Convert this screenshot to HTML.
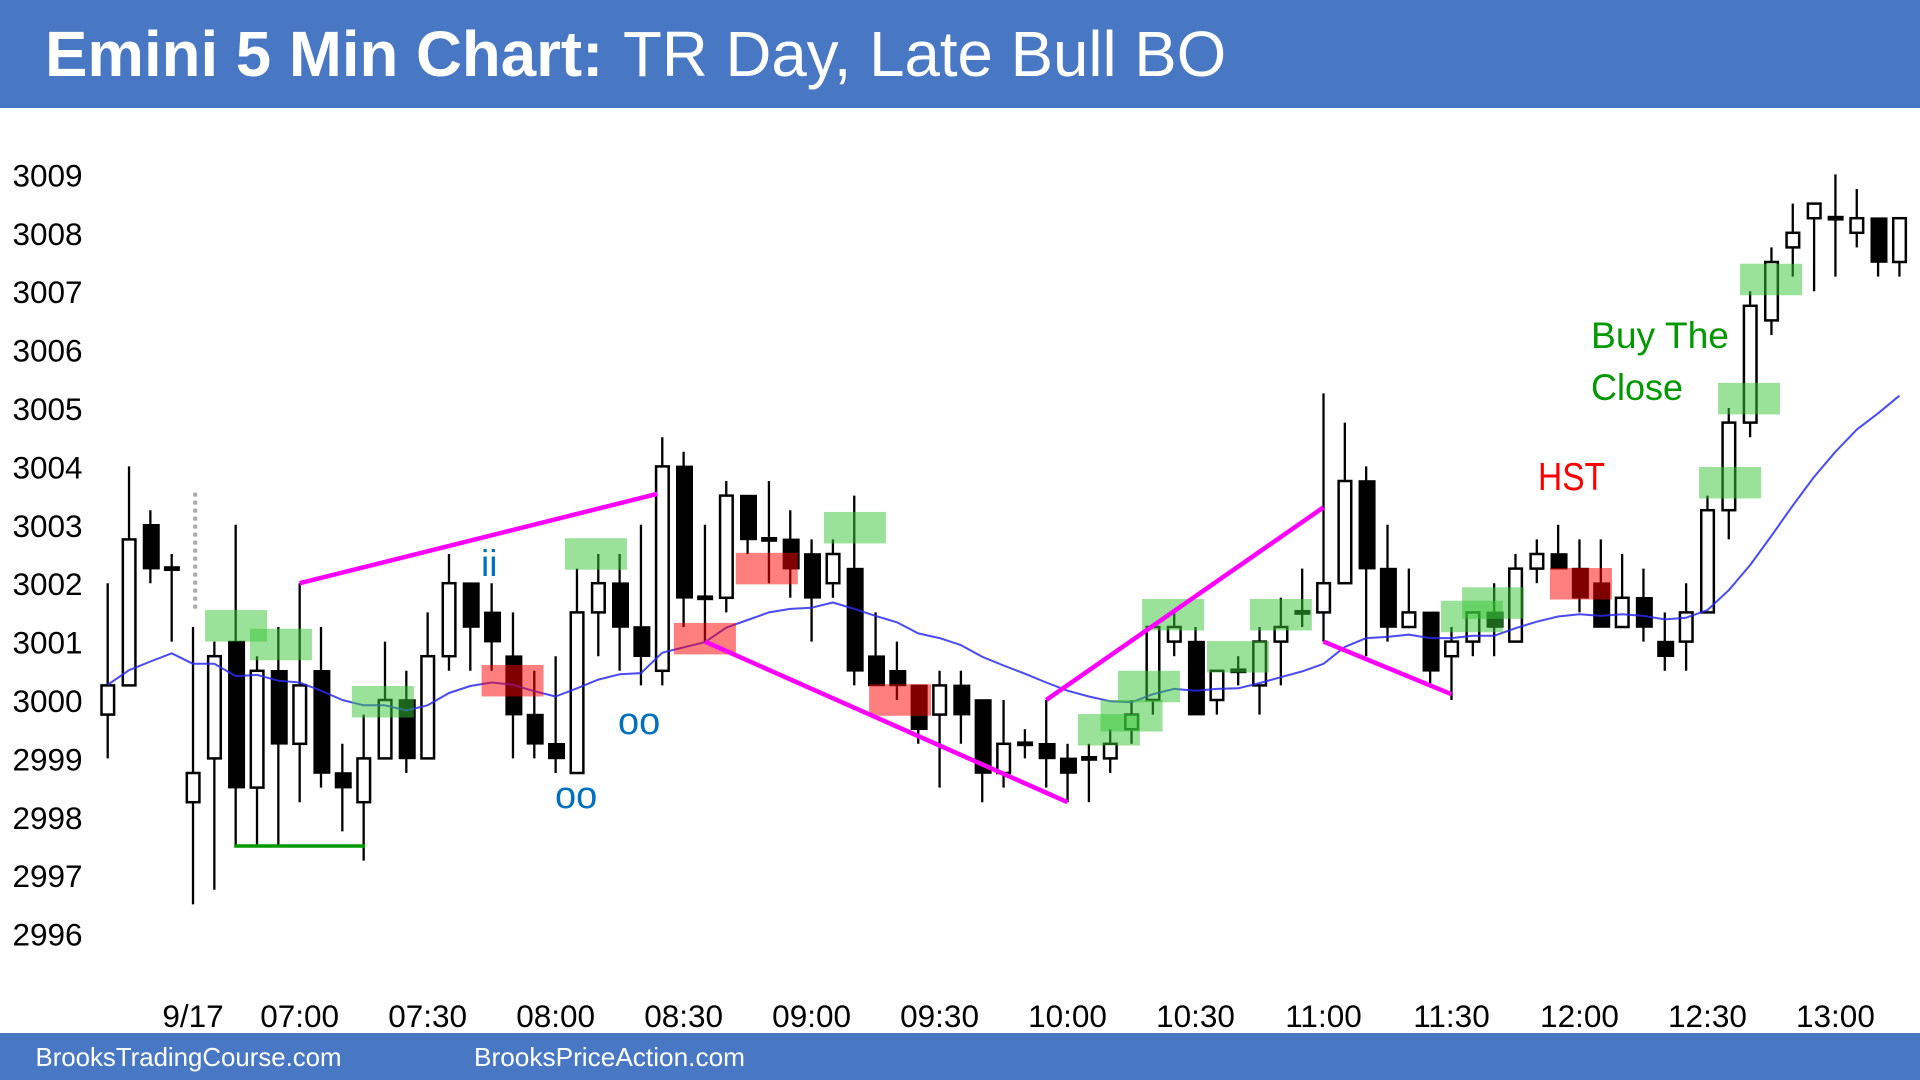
<!DOCTYPE html>
<html lang="en">
<head>
<meta charset="utf-8">
<title>Emini 5 Min Chart</title>
<style>
html,body{margin:0;padding:0;background:#fff;width:1920px;height:1080px;overflow:hidden}
svg{display:block;font-family:"Liberation Sans",Arial,sans-serif}
</style>
</head>
<body>
<svg id="chart" xmlns="http://www.w3.org/2000/svg" width="1920" height="1080" viewBox="0 0 1920 1080">
  <rect x="0" y="0" width="1920" height="1080" fill="#ffffff"/>
  <rect x="0" y="0" width="1920" height="108" fill="#4878c4"/>
  <text x="45" y="76" font-size="63.6" fill="#ffffff"><tspan font-weight="bold">Emini 5 Min Chart:</tspan><tspan x="623">TR Day, Late Bull BO</tspan></text>
  <rect x="0" y="1033" width="1920" height="47" fill="#4878c4"/>
  <text x="35.5" y="1066" font-size="25.6" fill="#ffffff" textLength="306" lengthAdjust="spacingAndGlyphs">BrooksTradingCourse.com</text>
  <text x="474" y="1066" font-size="25.6" fill="#ffffff" textLength="271" lengthAdjust="spacingAndGlyphs">BrooksPriceAction.com</text>
  <g id="y-axis"></g>
  <g id="x-axis"></g>
  <g id="session-marker"></g>
  <g id="candles"></g>
  <g id="ema"></g>
  <g id="zones"></g>
  <g id="lines"></g>
  <text x="481" y="576" font-size="37" fill="#0070c0">ii</text>
  <text x="555" y="808" font-size="38" fill="#0070c0">oo</text>
  <text x="618" y="734" font-size="38" fill="#0070c0">oo</text>
  <text x="1538" y="490" font-size="39" fill="#ff0000" textLength="67" lengthAdjust="spacingAndGlyphs">HST</text>
  <text x="1591" y="348" font-size="37" fill="#009900" textLength="138" lengthAdjust="spacingAndGlyphs">Buy The</text>
  <text x="1591" y="400" font-size="37" fill="#009900" textLength="92" lengthAdjust="spacingAndGlyphs">Close</text>
</svg>
<script>
const priceTicks = [3009,3008,3007,3006,3005,3004,3003,3002,3001,3000,2999,2998,2997,2996];
const timeLabels = ["9/17","07:00","07:30","08:00","08:30","09:00","09:30","10:00","10:30","11:00","11:30","12:00","12:30","13:00"];
const timeBars = [4,9,15,21,27,33,39,45,51,57,63,69,75,81];

const opens = [2999.75,3000.25,3003,3002.25,2998.25,2999,3001,2998.5,3000.5,2999.25,
3000.5,2998.75,2998.25,2999,3000,2999,3000.75,3002,3001.5,3000.75,
2999.75,2999.25,2998.75,3001.5,3002,3001.25,3000.5,3004,3001.75,3001.75,
3003.5,3002.75,3002.75,3002.5,3002,3002.25,3000.75,3000.5,3000.25,2999.75,
3000.25,3000,2998.75,2999.25,2999.25,2999,2999,2999,2999.5,3000,
3001,3001,3000,3000.5,3000.25,3001,3001.5,3001.5,3002,3003.75,
3002.25,3001.25,3001.5,3000.75,3001,3001.5,3001,3002.25,3002.5,3002.25,
3002,3001.25,3001.75,3001,3001,3001.5,3003.25,3004.75,3006.5,3007.75,
3008.25,3008.25,3008,3008.25,3007.5];
const highs = [3002,3004,3003.25,3002.5,3001.25,3001,3003,3000.75,3001.25,3002,
3001.25,2999.25,2999.75,3001,3000.5,3001.5,3002.5,3002,3002,3001.5,
3000.5,3000.75,3002.25,3002.5,3002.5,3003,3004.5,3004.25,3003,3003.75,
3003.5,3003.75,3003.25,3002.75,3002.75,3003.5,3001.5,3001,3000.25,3000.5,
3000.5,3000,3000,2999.5,3000,2999.25,2999.25,2999.5,3000,3001.25,
3001.5,3001.25,3000.5,3000.75,3001.25,3001.75,3002.25,3005.25,3004.75,3004,
3003,3002.25,3001.5,3001.25,3001.5,3002,3002.5,3002.75,3003,3002.75,
3002.75,3002.5,3002.25,3001.5,3002,3003.5,3005,3007,3007.75,3008.5,
3008.5,3009,3008.75,3008.25,3008.25];
const lows = [2999,3000.25,3002,3001,2996.5,2996.75,2997.5,2997.5,2997.5,2998.25,
2998.5,2997.75,2997.25,2999,2998.75,2999,3000.5,3000.5,3000.5,2999,
2999,2998.75,2998.75,3000.75,3000.5,3000.25,3000.25,3001.25,3001,3001.5,
3002.5,3002,3001.75,3001,3001.75,3000.25,3000.25,3000,2999.25,2998.5,
2999.25,2998.25,2998.5,2999,2998.5,2998.25,2998.25,2998.75,2999.25,2999.75,
3000.75,2999.75,2999.75,3000.25,2999.75,3000.25,3001.25,3001,3002,3000.75,
3001,3001.25,3000.25,3000,3000.75,3000.75,3001,3002,3002.25,3001.5,
3001.25,3001.25,3001,3000.5,3000.5,3001.5,3002.75,3004.5,3006.25,3007.25,
3007,3007.25,3007.75,3007.25,3007.25];
const closes = [3000.25,3002.75,3002.25,3002.25,2998.75,3000.75,2998.5,3000.5,2999.25,3000.25,
2998.75,2998.5,2999,3000,2999,3000.75,3002,3001.25,3001,2999.75,
2999.25,2999,3001.5,3002,3001.25,3000.75,3004,3001.75,3001.75,3003.5,
3002.75,3002.75,3002.25,3001.75,3002.5,3000.5,3000.25,3000.25,2999.5,3000.25,
2999.75,2998.75,2999.25,2999.25,2999,2998.75,2999,2999.25,2999.75,3001.25,
3001.25,2999.75,3000.5,3000.5,3001,3001.25,3001.5,3002,3003.75,3002.25,
3001.25,3001.5,3000.5,3001,3001.5,3001.25,3002.25,3002.5,3002.25,3001.75,
3001.25,3001.75,3001.25,3000.75,3001.5,3003.25,3004.75,3006.75,3007.5,3008,
3008.5,3008.25,3008.25,3007.5,3008.25];
const emaValues = [3000.26,3000.51,3000.66,3000.8,3000.62,3000.62,3000.41,3000.43,3000.33,3000.3,
3000.16,3000,2999.91,2999.91,2999.82,2999.91,3000.12,3000.24,3000.3,3000.26,
3000.15,3000.06,3000.2,3000.35,3000.44,3000.46,3000.81,3000.9,3000.99,3001.24,
3001.37,3001.5,3001.56,3001.58,3001.67,3001.56,3001.44,3001.33,3001.14,3001.06,
3000.94,3000.74,3000.59,3000.45,3000.3,3000.16,3000.06,2999.98,2999.96,3000.1,
3000.19,3000.16,3000.19,3000.2,3000.29,3000.39,3000.49,3000.62,3000.91,3001.06,
3001.08,3001.12,3001.06,3001.06,3001.1,3001.1,3001.23,3001.34,3001.43,3001.47,
3001.44,3001.47,3001.44,3001.38,3001.41,3001.54,3001.88,3002.31,3002.81,3003.33,
3003.82,3004.25,3004.63,3004.91,3005.21];

const buyZoneBars = [6.02,8.12,12.9,22.89,35.03,46.94,48,48.82,49.95,52.99,55,63.96,64.95,76.06,76.95,77.98];
const buyZoneTops = [3001.54,3001.22,3000.24,3002.77,3003.22,2999.76,3000,3000.5,3001.73,3001.01,3001.73,3001.7,3001.93,3003.99,3005.43,3007.47];
const sellZoneBars = [18.98,28,30.9,37.15,69.07];
const sellZoneTops = [3000.6,3001.32,3002.52,3000.27,3002.26];

const wedgeStartBars = [9,28,44,57];
const wedgeStartPrices = [3002,3001,3000,3001];
const wedgeEndBars = [25.77,45,57,63];
const wedgeEndPrices = [3003.53,2998.25,3003.3,3000.1];
const supportStartBar = 6;
const supportEndBar = 12;
const supportPrice = 2997.5;
const sessionMarkerBar = 4.1;
const sessionMarkerTop = 3003.55;
const sessionMarkerBottom = 3001.55;

const NS = "http://www.w3.org/2000/svg";
const xScale = function (i) { return 107.7 + 21.33 * i; };
const yScale = function (p) { return 700 - (p - 3000) * 58.4; };
function mk(parent, tag, attrs) {
  const el = document.createElementNS(NS, tag);
  for (const k in attrs) el.setAttribute(k, attrs[k]);
  parent.appendChild(el);
  return el;
}
const yAxis = document.getElementById("y-axis");
priceTicks.forEach(function (p) {
  const t = mk(yAxis, "text", {x: 12.5, y: yScale(p) + 12, "font-size": 31.5, fill: "#000"});
  
  
  t.textContent = String(p);
});
const xAxis = document.getElementById("x-axis");
timeLabels.forEach(function (label, k) {
  const t = mk(xAxis, "text", {x: xScale(timeBars[k]), y: 1027, "font-size": 31.5, fill: "#000", "text-anchor": "middle"});
  
  
  t.textContent = label;
});
const marker = mk(document.getElementById("session-marker"), "line", {
  x1: xScale(sessionMarkerBar), x2: xScale(sessionMarkerBar),
  y1: yScale(sessionMarkerTop), y2: yScale(sessionMarkerBottom),
  stroke: "#aaaaaa", "stroke-width": 4, "stroke-dasharray": "4 4"
});



const candles = document.getElementById("candles");
opens.forEach(function (o, i) {
  const c = closes[i];
  const x = xScale(i);
  const g = mk(candles, "g", {});
  
  
  mk(g, "line", {x1: x, x2: x, y1: yScale(highs[i]), y2: yScale(lows[i]), stroke: "#000", "stroke-width": 2.3});
  if (c > o) {
    mk(g, "rect", {x: x - 6.2, y: yScale(c), width: 12.6, height: yScale(o) - yScale(c), fill: "#fff", stroke: "#000", "stroke-width": 2.5});
  } else if (c < o) {
    mk(g, "rect", {x: x - 7.6, y: yScale(o) - 0.8, width: 17, height: yScale(c) - yScale(o) + 1.6, fill: "#000"});
  } else {
    mk(g, "rect", {x: x - 7.8, y: yScale(o) - 2.4, width: 16, height: 4.8, fill: "#000"});
  }
});

const emaPath = emaValues.map(function (v, i) {
  return (i ? "L" : "M") + xScale(i).toFixed(1) + " " + yScale(v).toFixed(1);
}).join(" ");
const ema = mk(document.getElementById("ema"), "path", {d: emaPath, fill: "none", stroke: "#2a2af0", "stroke-width": 2, "stroke-opacity": 0.85, "stroke-linejoin": "round"});



const zones = document.getElementById("zones");
buyZoneBars.forEach(function (b, k) {
  const top = yScale(buyZoneTops[k]);
  const r = mk(zones, "rect", {x: xScale(b) - 31, y: top, width: 62, height: 31.5, fill: "rgb(57,198,57)", "fill-opacity": 0.51});
  
  
});
sellZoneBars.forEach(function (b, k) {
  const top = yScale(sellZoneTops[k]);
  const r = mk(zones, "rect", {x: xScale(b) - 31, y: top, width: 62, height: 31.5, fill: "rgb(255,0,0)", "fill-opacity": 0.5});
  
  
});

const lines = document.getElementById("lines");
wedgeStartBars.forEach(function (b, k) {
  const l = mk(lines, "line", {
    x1: xScale(b), y1: yScale(wedgeStartPrices[k]),
    x2: xScale(wedgeEndBars[k]), y2: yScale(wedgeEndPrices[k]),
    stroke: "#ff00ff", "stroke-width": 4.5
  });
  
  
});
const support = mk(lines, "line", {
  x1: xScale(supportStartBar) - 1.5, x2: xScale(supportEndBar) + 1.5,
  y1: yScale(supportPrice), y2: yScale(supportPrice),
  stroke: "#009900", "stroke-width": 3.5
});


</script>
</body>
</html>
